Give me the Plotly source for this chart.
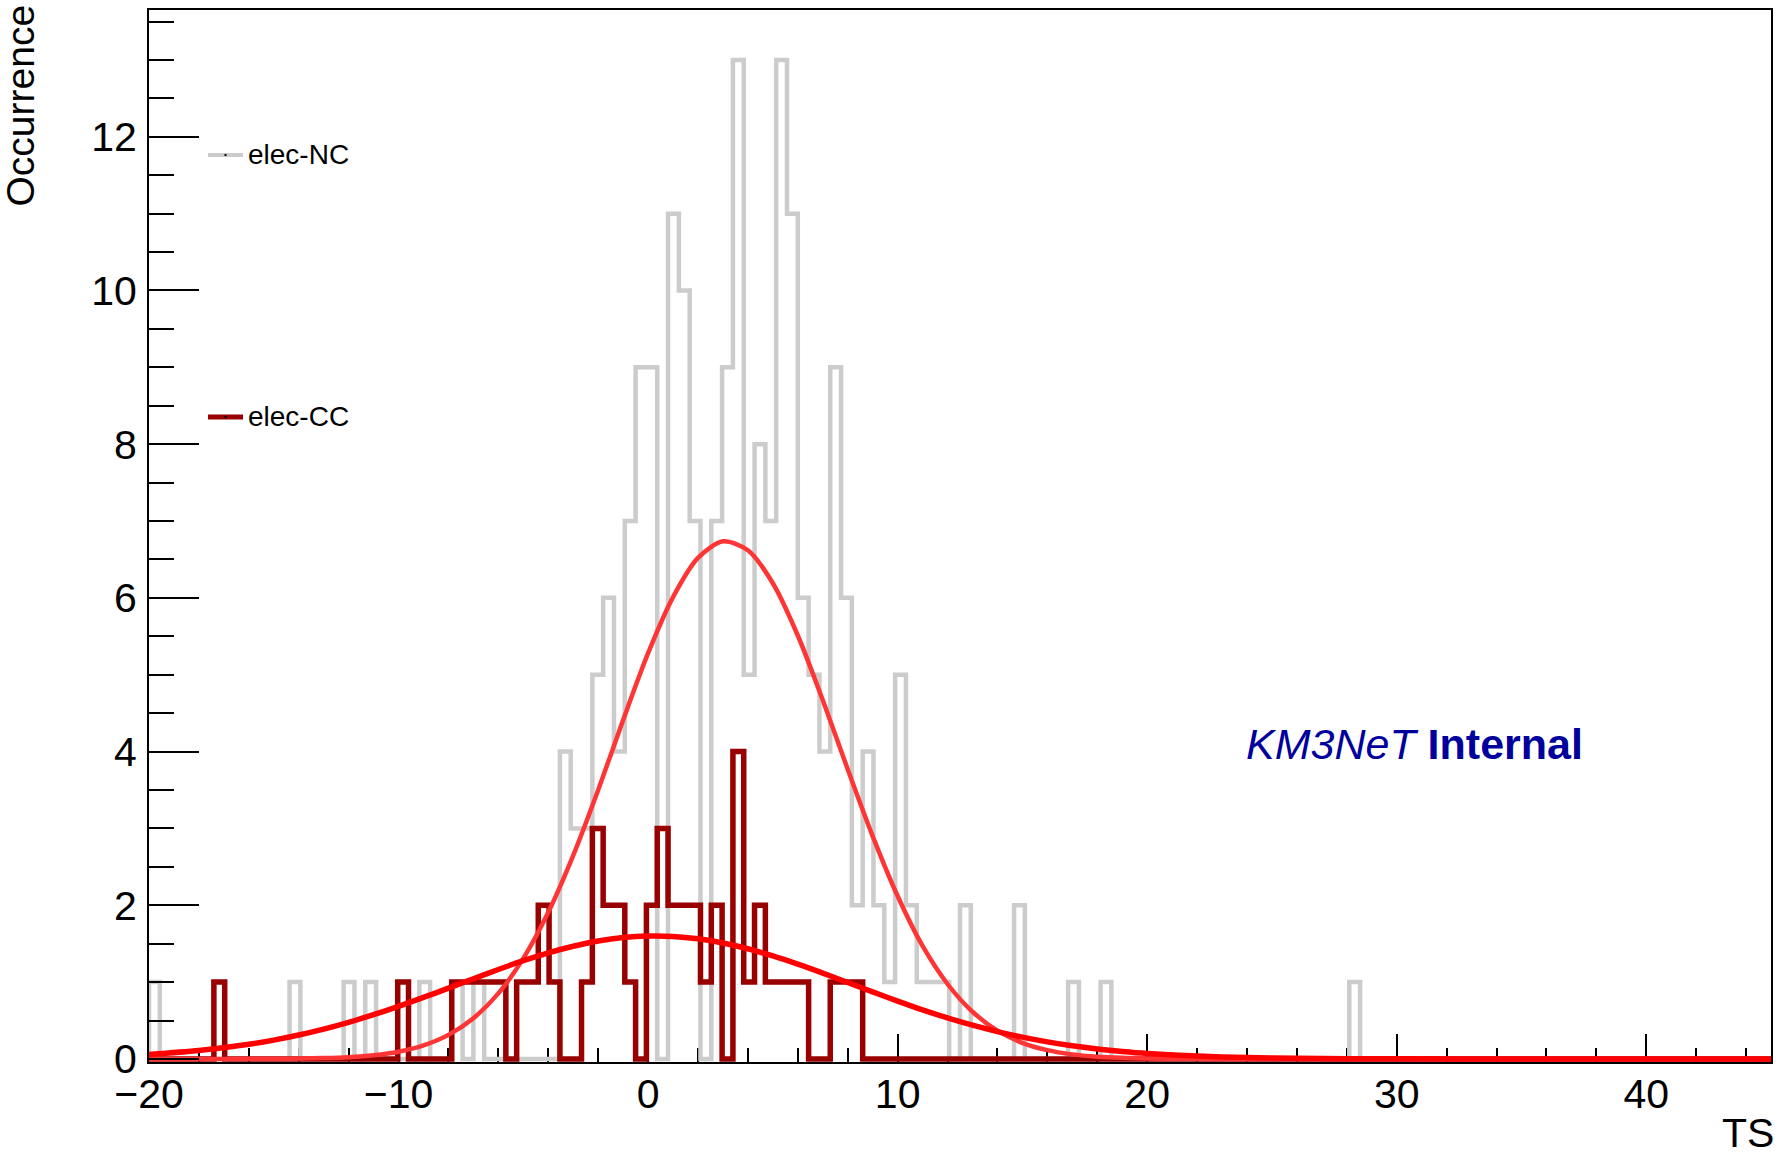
import plotly.graph_objects as go

# ---------------- data ----------------
X_MIN, X_MAX, N_BINS = -20.0, 45.0, 150

# elec-NC histogram (grey): non-empty bin indices and their counts
nc_bin_index = [0, 13, 18, 20, 25, 28, 30, 38, 39, 40, 41, 42, 43, 44, 45, 46,
                48, 49, 50, 52, 53, 54, 55, 56, 57, 58, 59, 60, 61, 62, 63, 64,
                65, 66, 67, 68, 69, 70, 71, 72, 73, 75, 80, 85, 88, 111]
nc_counts = [1, 1, 1, 1, 1, 1, 1, 4, 3, 3, 5, 6, 4, 7, 9, 9,
             11, 10, 7, 7, 9, 13, 5, 8, 7, 13, 11, 6, 5, 4, 9, 6,
             2, 4, 2, 1, 5, 2, 1, 1, 1, 2, 2, 1, 1, 1]

# elec-CC histogram (dark red): non-empty bin indices and their counts
cc_bin_index = [6, 23, 28, 29, 30, 31, 32, 34, 35, 36, 37, 40, 41, 42, 43, 44,
                46, 47, 48, 49, 50, 51, 52, 54, 55, 56, 57, 58, 59, 60, 63, 64, 65]
cc_counts = [1, 1, 1, 1, 1, 1, 1, 1, 1, 2, 1, 1, 3, 2, 2, 1,
             2, 3, 2, 2, 2, 1, 2, 4, 1, 2, 1, 1, 1, 1, 1, 1, 1]

# fitted curves, values
fit_x = [-20, -18, -16, -15, -14, -13, -12, -11, -10, -9, -8, -7, -6, -5, -4, -3,
         -2, -1, 0, 1, 2, 3, 4, 5, 6, 7, 8, 9, 10, 11, 12, 13, 14, 15, 16, 17,
         18, 19, 20, 22, 24, 26, 28, 30, 35, 40, 45]
nc_fit_y = [0.0, 0.0, 0.001, 0.002, 0.005, 0.011, 0.023, 0.048, 0.094, 0.176,
            0.313, 0.53, 0.853, 1.308, 1.908, 2.649, 3.50, 4.41, 5.28, 6.01,
            6.52, 6.736, 6.62, 6.19, 5.51, 4.67, 3.77, 2.90, 2.12, 1.47, 0.975,
            0.614, 0.368, 0.210, 0.114, 0.059, 0.029, 0.0137, 0.006, 0.001,
            0.0, 0.0, 0.0, 0.0, 0.0, 0.0, 0.0]
cc_fit_y = [0.059, 0.109, 0.190, 0.245, 0.311, 0.388, 0.476, 0.575, 0.684, 0.80,
            0.921, 1.044, 1.164, 1.278, 1.380, 1.466, 1.534, 1.579, 1.599, 1.594,
            1.563, 1.509, 1.434, 1.340, 1.233, 1.117, 0.995, 0.872, 0.753, 0.639,
            0.534, 0.439, 0.356, 0.283, 0.222, 0.171, 0.130, 0.097, 0.071, 0.037,
            0.018, 0.008, 0.0034, 0.0013, 0.0001, 0.0, 0.0]

x_tick_vals = [-20, -10, 0, 10, 20, 30, 40]
y_tick_vals = [0, 2, 4, 6, 8, 10, 12]
series_names = ["elec-NC", "elec-CC"]

# ---------------- styling / layout ----------------
W, H = 1782, 1156
PL, PR, PT, PB = 149, 1771, 10, 1062          # plot-area pixel box
Y_RANGE = [-0.04, 13.65]
FONT = "Liberation Sans, Arial, Helvetica, sans-serif"
GREY = "#cccccc"
DARK_RED = "#990000"
FIT_NC = "#ff3535"
FIT_CC = "#ff0000"


def px2x(px):
    return (px - PL) / (PR - PL)


def px2y(py):
    return (PB - py) / (PB - PT)


edges = [X_MIN + i * (X_MAX - X_MIN) / N_BINS for i in range(N_BINS + 1)]


def full_counts(idx, cnt):
    c = [0] * N_BINS
    for i, v in zip(idx, cnt):
        c[i] = v
    return c


def step_xy(c):
    xs = [edges[0]] + edges[:-1] + [edges[-1]]
    ys = [0] + c + [0]
    return xs, ys


nc_x, nc_y = step_xy(full_counts(nc_bin_index, nc_counts))
cc_x, cc_y = step_xy(full_counts(cc_bin_index, cc_counts))

fig = go.Figure()
fig.add_trace(go.Scatter(x=nc_x, y=nc_y, mode="lines", name=series_names[0],
                         line=dict(color=GREY, width=4.5, shape="hv"),
                         showlegend=False, hoverinfo="skip"))
fig.add_trace(go.Scatter(x=cc_x, y=cc_y, mode="lines", name=series_names[1],
                         line=dict(color=DARK_RED, width=5.5, shape="hv"),
                         showlegend=False, hoverinfo="skip"))
fig.add_trace(go.Scatter(x=fit_x, y=nc_fit_y, mode="lines", name="fit NC",
                         line=dict(color=FIT_NC, width=4.5, shape="spline", smoothing=0.8),
                         showlegend=False, hoverinfo="skip"))
fig.add_trace(go.Scatter(x=fit_x, y=cc_fit_y, mode="lines", name="fit CC",
                         line=dict(color=FIT_CC, width=5.5, shape="spline", smoothing=0.8),
                         showlegend=False, hoverinfo="skip"))

axis_common = dict(showgrid=False, zeroline=False, showline=True, mirror=True,
                   linecolor="black", linewidth=2, ticks="inside", tickcolor="black",
                   tickwidth=2, automargin=False,
                   tickfont=dict(family=FONT, size=41, color="black"))

fig.update_xaxes(range=[X_MIN, X_MAX], tickmode="array", tickvals=x_tick_vals,
                 ticklen=28, layer="below traces",
                 minor=dict(dtick=2, tick0=-20, ticklen=14, tickwidth=2,
                            ticks="inside", tickcolor="black"),
                 **axis_common)
fig.update_yaxes(range=Y_RANGE, tickmode="array", tickvals=y_tick_vals,
                 ticklen=50, ticklabelstandoff=2,
                 minor=dict(dtick=0.5, tick0=0, ticklen=25, tickwidth=2,
                            ticks="inside", tickcolor="black"),
                 **axis_common)
try:
    fig.update_xaxes(ticklabelstandoff=-5)
except Exception:
    pass

shapes = []
annotations = []
# custom legend (line sample + small marker dot + label)
legend_rows = [(series_names[0], GREY, 4, 155), (series_names[1], DARK_RED, 5, 417)]
for name, col, lw, py in legend_rows:
    shapes.append(dict(type="line", xref="paper", yref="paper",
                       x0=px2x(208), x1=px2x(243), y0=px2y(py), y1=px2y(py),
                       line=dict(color=col, width=lw)))
    shapes.append(dict(type="rect", xref="paper", yref="paper",
                       x0=px2x(224.5), x1=px2x(226.5), y0=px2y(py - 1), y1=px2y(py + 1),
                       line=dict(width=0), fillcolor="black"))
    annotations.append(dict(text=name, xref="paper", yref="paper",
                            x=px2x(246), y=px2y(py), xanchor="left", yanchor="middle",
                            showarrow=False, font=dict(family=FONT, size=28, color="black")))

# KM3NeT label
annotations.append(dict(text="<i>KM3NeT</i> <b>Internal</b>", xref="paper", yref="paper",
                        x=px2x(1244), y=px2y(744), xanchor="left", yanchor="middle",
                        showarrow=False, font=dict(family=FONT, size=43, color="#00009c")))
# x-axis title
annotations.append(dict(text="TS", xref="paper", yref="paper",
                        x=px2x(1776), y=px2y(1133), xanchor="right", yanchor="middle",
                        showarrow=False, font=dict(family=FONT, size=41, color="black")))
# y-axis title at the top-left edge
annotations.append(dict(text="Occurrence", xref="paper", yref="paper", textangle=-90,
                        x=px2x(44), y=px2y(2), xanchor="right", yanchor="top",
                        showarrow=False, font=dict(family=FONT, size=39, color="black")))

fig.update_layout(width=W, height=H, autosize=False,
                  margin=dict(l=PL, r=W - PR, t=PT, b=H - PB, autoexpand=False),
                  paper_bgcolor="white", plot_bgcolor="white",
                  showlegend=False, shapes=shapes, annotations=annotations,
                  font=dict(family=FONT))

fig.write_html("out.html", config={"displayModeBar": False},
               post_script="document.body.style.margin='0';document.body.style.padding='0';")
